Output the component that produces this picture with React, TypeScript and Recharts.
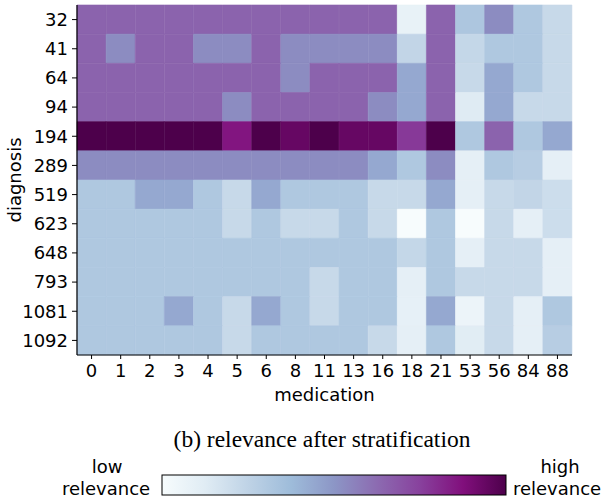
import { Bar, BarChart, Cell, Label, XAxis, YAxis } from "recharts";

const medication = ["0", "1", "2", "3", "4", "5", "6", "8", "11", "13", "16", "18", "21", "53", "56", "84", "88"];
const diagnosis = ["32", "41", "64", "94", "194", "289", "519", "623", "648", "793", "1081", "1092"];

// relevance per diagnosis row, one value per medication column (0 = low, 1 = high)
const relevance: number[][] = [
  [0.65, 0.65, 0.65, 0.65, 0.65, 0.65, 0.65, 0.65, 0.65, 0.65, 0.65, 0.08, 0.65, 0.32, 0.53, 0.31, 0.22],
  [0.65, 0.53, 0.65, 0.65, 0.53, 0.53, 0.65, 0.53, 0.53, 0.53, 0.53, 0.24, 0.65, 0.23, 0.31, 0.31, 0.22],
  [0.65, 0.65, 0.65, 0.65, 0.65, 0.65, 0.65, 0.53, 0.65, 0.65, 0.65, 0.44, 0.65, 0.22, 0.44, 0.31, 0.22],
  [0.65, 0.65, 0.65, 0.65, 0.65, 0.53, 0.65, 0.65, 0.65, 0.65, 0.53, 0.44, 0.65, 0.13, 0.44, 0.22, 0.22],
  [1.0, 1.0, 1.0, 1.0, 1.0, 0.86, 1.0, 0.94, 1.0, 0.94, 0.94, 0.77, 1.0, 0.31, 0.65, 0.31, 0.44],
  [0.53, 0.53, 0.53, 0.53, 0.53, 0.53, 0.53, 0.53, 0.53, 0.53, 0.44, 0.31, 0.53, 0.1, 0.31, 0.28, 0.1],
  [0.31, 0.31, 0.44, 0.44, 0.31, 0.22, 0.44, 0.31, 0.31, 0.31, 0.22, 0.22, 0.44, 0.1, 0.22, 0.24, 0.2],
  [0.31, 0.31, 0.31, 0.31, 0.31, 0.22, 0.31, 0.22, 0.22, 0.31, 0.22, 0.0, 0.31, 0.0, 0.22, 0.1, 0.2],
  [0.31, 0.31, 0.31, 0.31, 0.31, 0.31, 0.31, 0.31, 0.31, 0.31, 0.31, 0.23, 0.31, 0.1, 0.22, 0.22, 0.1],
  [0.31, 0.31, 0.31, 0.31, 0.31, 0.31, 0.31, 0.31, 0.22, 0.31, 0.31, 0.1, 0.31, 0.22, 0.22, 0.22, 0.1],
  [0.31, 0.31, 0.31, 0.44, 0.31, 0.22, 0.44, 0.31, 0.22, 0.31, 0.31, 0.09, 0.44, 0.06, 0.22, 0.1, 0.31],
  [0.31, 0.31, 0.31, 0.31, 0.31, 0.22, 0.31, 0.31, 0.31, 0.31, 0.22, 0.1, 0.31, 0.12, 0.22, 0.1, 0.28],
];

const BUPU = ["#f7fcfd", "#e0ecf4", "#bfd3e6", "#9ebcda", "#8c96c6", "#8c6bb1", "#88419d", "#810f7c", "#4d004b"];

const hexToRgb = (h: string) => [1, 3, 5].map((i) => parseInt(h.slice(i, i + 2), 16));

const bupu = (v: number) => {
  const t = Math.max(0, Math.min(1, v)) * (BUPU.length - 1);
  const i = Math.min(BUPU.length - 2, Math.floor(t));
  const f = t - i;
  const a = hexToRgb(BUPU[i]);
  const b = hexToRgb(BUPU[i + 1]);
  const c = a.map((x, k) => Math.round(x + (b[k] - x) * f));
  return `rgb(${c[0]},${c[1]},${c[2]})`;
};

// each column is a stack of unit-height cells, one per diagnosis
const data = medication.map((m) => {
  const row: Record<string, string | number> = { medication: m };
  diagnosis.forEach((_, r) => {
    row["d" + r] = 1;
  });
  return row;
});

const FONT = "DejaVu Sans";
const tickStyle = { fontSize: 18, fill: "#000", fontFamily: FONT };

export default function App() {
  return (
    <div style={{ position: "absolute", left: 0, top: 0, width: 609, height: 504, background: "#fff" }}>
      <BarChart
        width={609}
        height={410}
        data={data}
        barCategoryGap={0}
        margin={{ top: 5, right: 37, left: 0, bottom: 0 }}
      >
        <XAxis
          dataKey="medication"
          interval={0}
          tick={tickStyle}
          tickSize={4}
          tickMargin={5}
          height={55}
          axisLine={{ stroke: "#000", strokeWidth: 1.2 }}
          tickLine={{ stroke: "#000" }}
        >
          <Label value="medication" position="insideBottom" offset={9} style={{ fontSize: 18, fontFamily: FONT, fill: "#000" }} />
        </XAxis>
        <XAxis
          xAxisId="top"
          orientation="top"
          dataKey="medication"
          height={0}
          tick={false}
          tickLine={false}
          axisLine={{ stroke: "#000", strokeWidth: 1.2 }}
        />
        <YAxis
          type="number"
          domain={[0, diagnosis.length]}
          reversed
          ticks={diagnosis.map((_, i) => i + 0.5)}
          tickFormatter={(v: number) => diagnosis[Math.floor(v)]}
          interval={0}
          width={77}
          tick={tickStyle}
          tickSize={5}
          tickMargin={4}
          axisLine={{ stroke: "#000", strokeWidth: 1.2 }}
          tickLine={{ stroke: "#000" }}
        >
          <Label
            content={(props: any) => {
              const vb = props.viewBox || {};
              const cy = (vb.y ?? 5) + (vb.height ?? 350) / 2;
              return (
                <text
                  x={21}
                  y={cy}
                  transform={`rotate(-90 21 ${cy})`}
                  textAnchor="middle"
                  fontSize={18}
                  fontFamily={FONT}
                  fill="#000"
                >
                  diagnosis
                </text>
              );
            }}
          />
        </YAxis>
        <YAxis
          yAxisId="right"
          orientation="right"
          width={0}
          tick={false}
          tickLine={false}
          axisLine={{ stroke: "#000", strokeWidth: 1.2 }}
        />
        {diagnosis.map((d, r) => (
          <Bar key={d} dataKey={"d" + r} stackId="cells" isAnimationActive={false}>
            {medication.map((m, c) => {
              const fill = bupu(relevance[r][c]);
              return <Cell key={m} fill={fill} stroke={fill} strokeWidth={0.6} />;
            })}
          </Bar>
        ))}
      </BarChart>
      <svg width={609} height={504} style={{ position: "absolute", left: 0, top: 0, pointerEvents: "none" }}>
        <defs>
          <linearGradient id="cbar" x1="0" x2="1" y1="0" y2="0">
            {BUPU.map((c, i) => (
              <stop key={c} offset={i / (BUPU.length - 1)} stopColor={c} />
            ))}
          </linearGradient>
        </defs>
        <text x={322} y={447} textAnchor="middle" fontSize={23.5} fontFamily="Liberation Serif" fill="#000">
          (b) relevance after stratification
        </text>
        <text x={107} y={473} textAnchor="middle" fontSize={18} fontFamily={FONT} fill="#000">
          low
        </text>
        <text x={106} y={495} textAnchor="middle" fontSize={18} fontFamily={FONT} fill="#000">
          relevance
        </text>
        <rect x={162} y={475} width={344} height={20} fill="url(#cbar)" stroke="#000" strokeWidth={1} />
        <text x={560} y={473} textAnchor="middle" fontSize={18} fontFamily={FONT} fill="#000">
          high
        </text>
        <text x={557} y={495} textAnchor="middle" fontSize={18} fontFamily={FONT} fill="#000">
          relevance
        </text>
      </svg>
    </div>
  );
}
